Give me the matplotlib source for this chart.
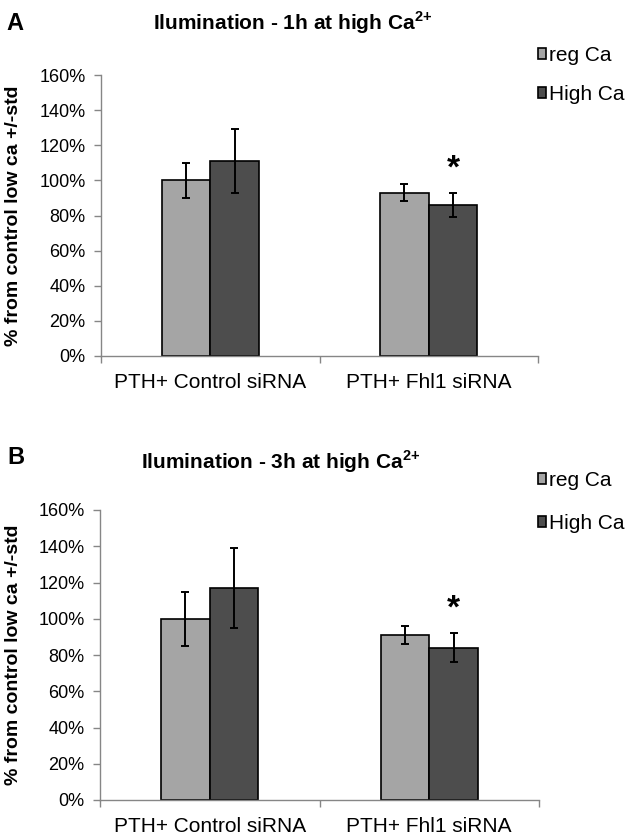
import matplotlib
matplotlib.use('Agg')
import matplotlib.pyplot as plt
import numpy as np

plt.rcParams['font.family'] = ['Liberation Sans', 'DejaVu Sans']
plt.rcParams['mathtext.fontset'] = 'custom'
plt.rcParams['mathtext.rm'] = 'Liberation Sans:bold'
plt.rcParams['mathtext.bf'] = 'Liberation Sans:bold'

# --- data ---
categories = ['PTH+ Control siRNA', 'PTH+ Fhl1 siRNA']
series = ['reg Ca', 'High Ca']
# panel A: 1h
a_reg = [100, 93]
a_reg_err = [10, 5]
a_high = [111, 86]
a_high_err = [18, 7]
# panel B: 3h
b_reg = [100, 91]
b_reg_err = [15, 5]
b_high = [117, 84]
b_high_err = [22, 8]
yticks = [0, 20, 40, 60, 80, 100, 120, 140, 160]
titles = ['Ilumination - 1h at high Ca$^{2{+}}$', 'Ilumination - 3h at high Ca$^{2{+}}$']
letters = ['A', 'B']
star_group = 1  # significance marker over High Ca of Fhl1 siRNA

colors = ['#a5a5a5', '#4d4d4d']
W, H = 629, 836
fig = plt.figure(figsize=(W / 100, H / 100), dpi=100)

panels = [
    (a_reg, a_reg_err, a_high, a_high_err),
    (b_reg, b_reg_err, b_high, b_high_err),
]
# axes rectangles in pixels: left, right, top, bottom
rects = [(101, 538, 75, 356), (100, 539, 510, 800)]
title_pos = [(293, 23), (281, 462)]
letter_pos = [(15, 24), (16, 458)]
legend_pos = [(538, 46), (538, 471)]
legend_gap = [0.95, 1.15]

x = np.arange(len(categories))
bw = 0.222
for i, (reg, reg_err, high, high_err) in enumerate(panels):
    l, r, t, b = rects[i]
    ax = fig.add_axes([l / W, 1 - b / H, (r - l) / W, (b - t) / H])
    ekw = dict(ecolor='black', elinewidth=1.4, capsize=3, capthick=1.4)
    ax.bar(x - bw / 2, reg, bw, yerr=reg_err, color=colors[0], edgecolor='black',
           linewidth=1.2, label=series[0], error_kw=ekw, zorder=2)
    ax.bar(x + bw / 2, high, bw, yerr=high_err, color=colors[1], edgecolor='black',
           linewidth=1.2, label=series[1], error_kw=ekw, zorder=2)
    ax.annotate('*', xy=(x[star_group] + bw / 2, high[star_group] + high_err[star_group]),
                xytext=(0, 11), textcoords='offset points', ha='center', va='baseline',
                fontsize=24, fontweight='bold')

    ax.set_xlim(-0.5, 1.5)
    ax.set_ylim(0, 160)
    ax.set_yticks(yticks)
    ax.set_yticklabels([f'{v}%' for v in yticks], fontsize=13)
    ax.set_xticks(x)
    ax.set_xticklabels(categories, fontsize=15)
    ax.set_xticks([-0.5, 0.5, 1.5], minor=True)
    ax.tick_params(axis='x', which='major', length=0, pad=12)
    ax.tick_params(axis='x', which='minor', length=5, color='#868686', width=1)
    ax.tick_params(axis='y', length=5, color='#868686', width=1, pad=6)
    for s in ['top', 'right']:
        ax.spines[s].set_visible(False)
    for s in ['left', 'bottom']:
        ax.spines[s].set_color('#868686')
        ax.spines[s].set_linewidth(1)
    ax.set_ylabel('% from control low ca +/-std', fontsize=14, fontweight='bold')
    ax.yaxis.set_label_coords(22 / W, 1 - (t + b) / 2 / H, transform=fig.transFigure)

    tx, ty = title_pos[i]
    fig.text(tx / W, 1 - ty / H, titles[i], ha='center', va='center',
             fontsize=15, fontweight='bold')
    lx, ly = letter_pos[i]
    fig.text(lx / W, 1 - ly / H, letters[i], ha='center', va='center',
             fontsize=17, fontweight='bold')
    px, py = legend_pos[i]
    fig.legend(handles=ax.patches[:1] + ax.patches[2:3], labels=series,
               loc='upper left', bbox_to_anchor=(px / W, 1 - py / H),
               frameon=False, fontsize=15, handlelength=0.4, handleheight=0.4,
               handletextpad=0.15, labelspacing=legend_gap[i], borderpad=0, borderaxespad=0)

fig.savefig('out.png', dpi=100)
